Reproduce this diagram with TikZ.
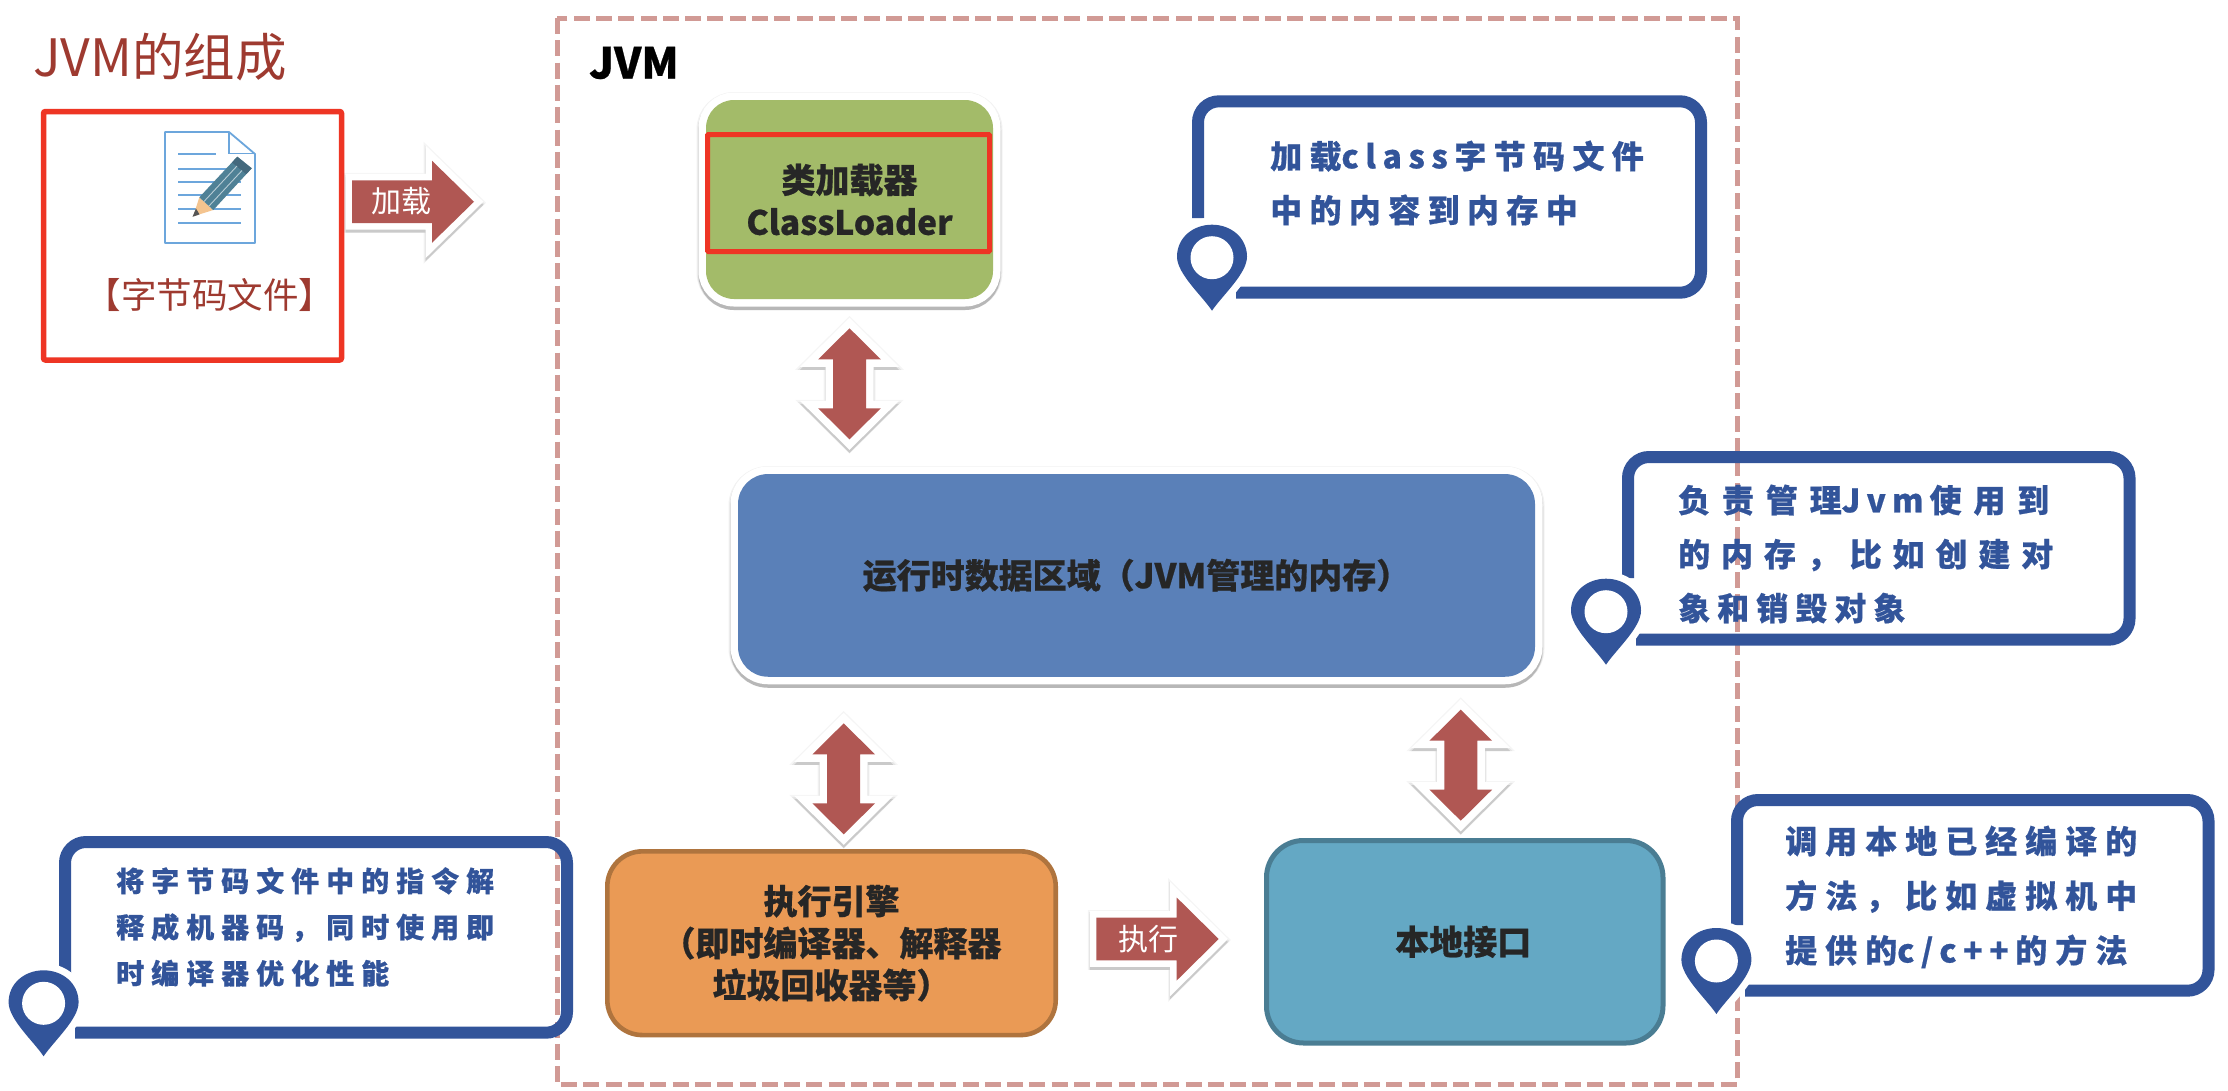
\documentclass[tikz,border=0pt]{standalone}
\usepackage{fontspec}
\newfontfamily\cjk{Noto Sans CJK SC}[BoldFeatures={FakeBold=0.6}]
\definecolor{framec}{HTML}{D19A95}
\definecolor{brick}{HTML}{9E3A30}
\definecolor{redline}{HTML}{EE3524}
\definecolor{arrowc}{HTML}{B05753}
\definecolor{calloutc}{HTML}{32549A}
\definecolor{greenc}{HTML}{A3BB69}
\definecolor{bluec}{HTML}{5A80B8}
\definecolor{orangec}{HTML}{EA9A55}
\definecolor{orangel}{HTML}{AF743E}
\definecolor{tealc}{HTML}{64A8C4}
\definecolor{teall}{HTML}{4A7D93}
\definecolor{inkc}{HTML}{262626}
\definecolor{docc}{HTML}{6CA6DC}
\definecolor{woodc}{HTML}{F4C48F}
\definecolor{leadc}{HTML}{555555}
\definecolor{pencilc}{HTML}{4F8196}
\definecolor{erasec}{HTML}{44697D}
\newcommand\fs[2]{\fontsize{#1}{#2}\selectfont}
\newcommand\lsp[1]{\addfontfeatures{LetterSpace=#1}}
\tikzset{
  x=1pt,y=-1pt,
  boldtext/.style={font=\cjk\bfseries\fs{34}{42},text=inkc,align=center},
  panel/.style={rectangle,outer sep=0pt,inner sep=0pt,rounded corners=#1},
  raised/.style={
    preaction={draw=black,draw opacity=.05,line width=19pt,transform canvas={yshift=-1.5pt}},
    preaction={draw=black,draw opacity=.07,line width=17pt,transform canvas={yshift=-2.5pt}},
    preaction={draw=black,draw opacity=.18,line width=15pt,transform canvas={yshift=-3.5pt}},
    preaction={draw=white,line width=15pt}},
  calloutline/.style={draw=calloutc,line width=12pt,rounded corners=21pt},
  callouttext/.style={font=\cjk\bfseries,text=calloutc,align=left,anchor=west,inner sep=0pt},
  arrowtext/.style={font=\cjk\fs{30}{36},text=white,inner sep=0pt},
  docline/.style={draw=docc,line width=1.6pt}
}
\newcommand\arrowlayers[2]{%
  \draw[black,opacity=.04,line width=#2pt+4pt,shift={(0,1)}] #1;
  \draw[black,opacity=.06,line width=#2pt+2pt,shift={(0,2)}] #1;
  \draw[black,opacity=.12,line width=#2pt,shift={(0,3)}] #1;
  \draw[white,line width=#2pt] #1;
  \fill[arrowc] #1;}
\newcommand\dblarrow[1]{%
  \begin{scope}[shift={(#1)},miter limit=10]
    \def\shp{(0,0) -- (31.3,31) -- (16.5,31) -- (16.5,80) -- (31.3,80) -- (0,111) -- (-31.3,80) -- (-16.5,80) -- (-16.5,31) -- (-31.3,31) -- cycle}
    \arrowlayers{\shp}{15}
  \end{scope}}
\newcommand\rgtarrow[1]{%
  \begin{scope}[shift={(#1)},miter limit=10]
    \def\shp{(0,-21.3) -- (80,-21.3) -- (80,-41) -- (122,0) -- (80,41) -- (80,21.3) -- (0,21.3) -- cycle}
    \arrowlayers{\shp}{13}
  \end{scope}}
\newcommand\mappin[2]{%
  \begin{scope}[shift={(#1,#2)}]
    \def\shp{(0,53) .. controls (-10,38) and (-35,16) .. (-35,-1) .. controls (-35,-20) and (-19,-33) .. (0,-33) .. controls (19,-33) and (35,-20) .. (35,-1) .. controls (35,16) and (10,38) .. (0,53) -- cycle}
    \draw[white,line width=14pt] \shp;
    \fill[calloutc] \shp;
    \fill[white] (0,0) circle[radius=21.5];
  \end{scope}}
\begin{document}
\begin{tikzpicture}
\useasboundingbox (0,0) rectangle (2228,1090);
\fill[white] (0,0) rectangle (2228,1090);

% frame
\draw[framec,line width=5pt,dash pattern=on 16pt off 6.3pt] (557,18) rectangle (1737,1084.3);
\node[font=\cjk\bfseries\fs{42.5}{50},text=black,anchor=west,inner sep=0pt] (jvmlabel) at (589,63) {JVM};

% title
\node[font=\cjk\fs{51.5}{58},text=brick,anchor=west,inner sep=0pt] (title) at (33,57) {JVM的组成};

% bytecode box
\node[panel=2pt,draw=redline,line width=5.5pt,minimum width=298pt,minimum height=248.5pt] (bytecode) at (192.5,235.75) {};
\node[font=\cjk\fs{35.5}{40},text=brick,inner sep=0pt] (bytecodelabel) at (210,295) {【字节码文件】};

% document icon
\draw[docc,line width=1.8pt,line join=round] (165,132) -- (229,132) -- (255,154) -- (255,243) -- (165,243) -- cycle;
\draw[docc,line width=1.8pt] (229,132) -- (229,153.5) -- (255,153.5);
\draw[docline] (178,154) -- (216,154);
\draw[docline] (178,169) -- (232,169);
\draw[docline] (178,182) -- (240.5,182);
\draw[docline] (178,195) -- (240.5,195);
\draw[docline] (178,209) -- (240.5,209);
\draw[docline] (178,222.7) -- (240.5,222.7);
\fill[woodc] (199.3,197.3) -- (213.3,210) -- (193.3,216.3) -- cycle;
\fill[leadc] (196,208.5) -- (199.5,214.4) -- (192.5,216.8) -- cycle;
\fill[pencilc] (199.3,197.3) -- (237.3,156.7) -- (251.7,168.3) -- (213.3,210) -- cycle;
\fill[erasec] (232,162.4) -- (237.3,156.7) -- (251.7,168.3) -- (246.3,174.2) -- cycle;
\draw[white,opacity=.6,line width=.9pt] (204,201.5) -- (237,166);
\draw[white,opacity=.6,line width=.9pt] (209,206) -- (242,170.5);

% arrow 1
\coordinate (load) at ([xshift=10.5pt,yshift=34pt]bytecode.east);
\rgtarrow{load}
\node[arrowtext] (loadlabel) at (401,201) {加载};

% class loader
\node[panel=28pt,raised,fill=greenc,minimum width=287pt,minimum height=199pt,boldtext] (loader) at (849.5,199.5) {类加载器\\\fs{33.5}{42}ClassLoader};
\node[panel=1pt,draw=redline,line width=5pt,minimum width=282pt,minimum height=117pt] (loaderframe) at (848.5,193) {};

% runtime area
\node[panel=30pt,raised,fill=bluec,minimum width=797pt,minimum height=202.7pt,boldtext] (runtime) at (1136.5,575.4) {运行时数据区域（JVM管理的内存）};

% engine
\node[panel=35pt,draw=orangel,line width=4.6pt,fill=orangec,minimum width=448.4pt,minimum height=183.7pt,boldtext] (engine) at (831.5,943.2) {执行引擎\\（即时编译器、解释器\\垃圾回收器等）};

% native
\node[panel=37pt,draw=teall,line width=5pt,fill=tealc,minimum width=396.5pt,minimum height=202.5pt,boldtext] (native) at (1464.75,941.75) {\hspace*{-3pt}本地接口};

% double arrows
\coordinate (d1) at ([yshift=-29.3pt]loader.south);
\coordinate (d2) at ([xshift=12.2pt,yshift=128pt]engine.north);
\coordinate (d3) at ([xshift=-4pt,yshift=130.8pt]native.north);
\dblarrow{d1}
\dblarrow{d2}
\dblarrow{d3}

% arrow 2
\coordinate (exec) at ([xshift=40.7pt,yshift=4.2pt]engine.east);
\begin{scope}[shift={(exec)},miter limit=10]
  \def\shp{(0,-21.3) -- (80.3,-21.3) -- (80.3,-41.5) -- (122.3,0) -- (80.3,41.5) -- (80.3,21.3) -- (0,21.3) -- cycle}
  \arrowlayers{\shp}{13}
\end{scope}
\node[arrowtext] (execlabel) at (1148,939) {执行};

% callout 1
\draw[calloutline] (1198,218) -- (1198,101.3) -- (1701,101.3) -- (1701,292.7) -- (1236,292.7);
\mappin{1212}{257.7}
\node[callouttext,font=\cjk\bfseries\fs{32}{54}] (tipone) at (1270,183) {\lsp{23}加载{\lsp{20.6}class}\kern6.6pt\lsp{23}字节码文件\\\lsp{23}中的内容到内存中};

% callout 2
\draw[calloutline] (1628,578) -- (1628,457) -- (2129.5,457) -- (2129.5,639.7) -- (1636,639.7);
\mappin{1606}{611.7}
\node[callouttext,font=\cjk\bfseries\fs{32}{54}] (tiptwo) at (1678,554) {\lsp{37}负责管理{\lsp{19}Jvm}\kern6pt\lsp{37}使用到\\\lsp{34}的内存，比如创建对\\\lsp{22}象和销毁对象};

% callout 3
\draw[calloutline] (65,990) -- (65,842) -- (567,842) -- (567,1032.7) -- (75,1032.7);
\mappin{43.6}{1003.3}
\node[callouttext,font=\cjk\bfseries\fs{28}{46.2}] (tipthree) at (116,927) {\lsp{25}将字节码文件中的指令解\\\lsp{25}释成机器码，同时使用即\\\lsp{25}时编译器优化性能};

% callout 4
\draw[calloutline] (1737,925) -- (1737,800) -- (2208.5,800) -- (2208.5,990.7) -- (1745,990.7);
\mappin{1716.4}{961}
\node[callouttext,font=\cjk\bfseries\fs{32}{54.6}] (tipfour) at (1785,897) {\lsp{25}调用本地已经编译的\\\lsp{25}方法，比如虚拟机中\\\lsp{25}提供的{\lsp{20.6}c/c++}\kern6.6pt\lsp{25}的方法};
\end{tikzpicture}
\end{document}
